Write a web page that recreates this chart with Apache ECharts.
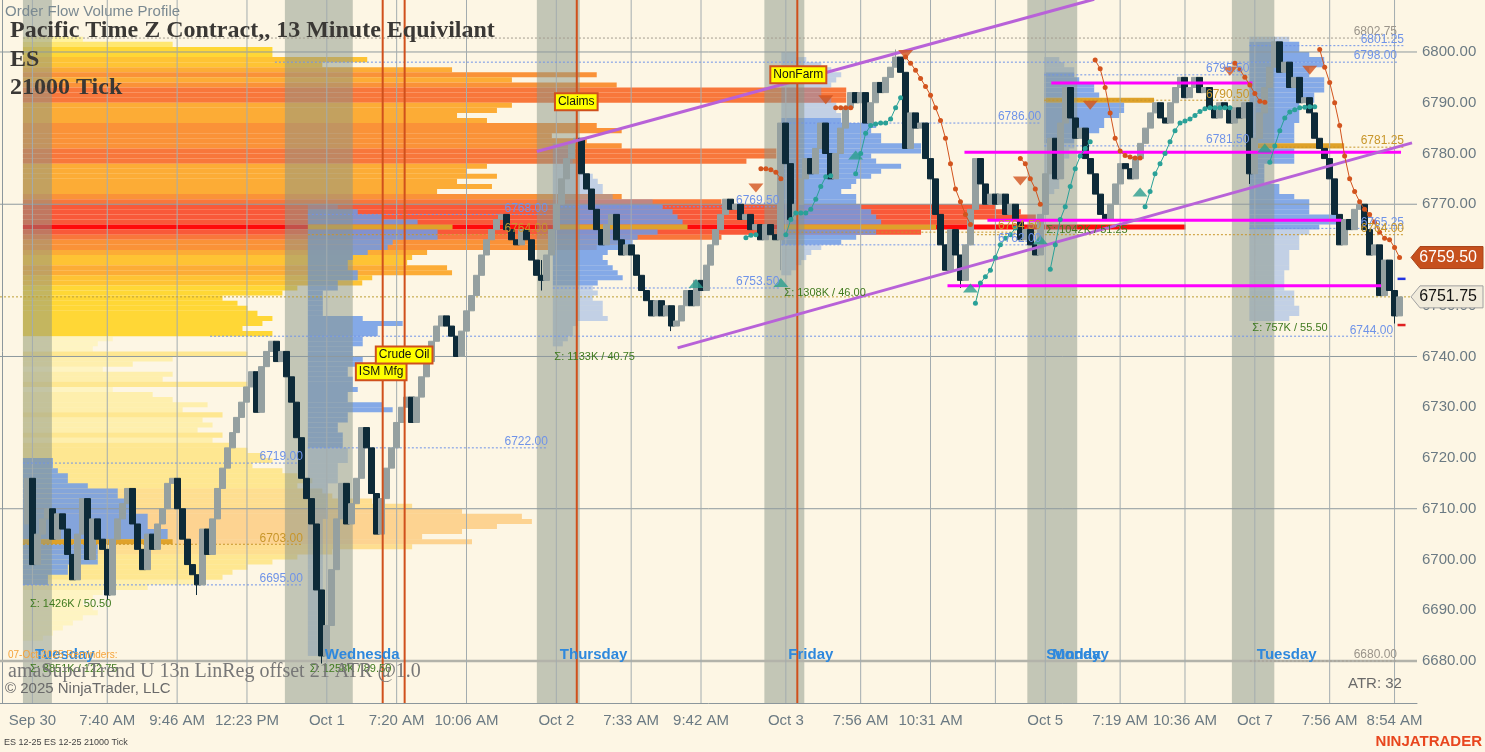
<!DOCTYPE html>
<html>

<head>
    <meta charset="utf-8" />
    <title>ES 21000 Tick - Order Flow Volume Profile</title>
    <script src="https://cdn.jsdelivr.net/npm/echarts@6.0.0/dist/echarts.min.js"></script>
    <style>
        html, body { margin: 0; padding: 0; background: #FDF6E4; }
        #main { width: 1485px; height: 752px; }
    </style>
</head>

<body>
    <div id="main"></div>
    <script type="text/javascript">
        // ---- bars (21000 tick), open of each bar = close of the one before
        var barCount = 284;
        var firstBar = 5;
        var firstOpen = 6707;
        var closes = [
            6716, 6699, 6705, 6708, 6710, 6704, 6709, 6706, 6701, 6696,
            6705, 6712, 6700, 6708, 6704, 6702, 6693, 6704, 6708, 6711,
            6714, 6707, 6702, 6698, 6705, 6702, 6707, 6710, 6715, 6716,
            6710, 6704, 6699, 6697, 6695, 6706, 6701, 6708, 6714, 6718,
            6722, 6725, 6728, 6731, 6734, 6737, 6729, 6738, 6741, 6743,
            6739, 6741, 6736, 6731, 6724, 6716, 6712, 6707, 6694, 6681,
            6687, 6698, 6708, 6715, 6707, 6711, 6716, 6726, 6722, 6713,
            6705, 6712, 6718, 6722, 6727, 6730, 6732, 6727, 6732, 6736,
            6739, 6743, 6746, 6748, 6746, 6744, 6740, 6745, 6749, 6752,
            6756, 6760, 6763, 6765, 6767, 6768, 6765, 6763, 6762, 6765,
            6763, 6759, 6756, 6755, 6760, 6765, 6770, 6775, 6779, 6782,
            6783, 6776, 6773, 6769, 6765, 6762, 6766, 6768, 6763, 6760,
            6762, 6760, 6756, 6753, 6751, 6748, 6751, 6748, 6750, 6746,
            6747, 6750, 6753, 6750, 6755, 6753, 6758, 6762, 6765, 6768,
            6771, 6769, 6770, 6767, 6768, 6765, 6766, 6763, 6766, 6764,
            6763, 6786, 6778, 6767, 6770, 6775, 6779, 6776, 6781, 6786,
            6780, 6775, 6780, 6785, 6789, 6792, 6790, 6792, 6786, 6790,
            6794, 6792, 6795, 6797, 6799, 6796, 6781, 6788, 6785, 6786,
            6779, 6775, 6768, 6762, 6757, 6765, 6760, 6755, 6762, 6769,
            6779, 6774, 6770, 6772, 6770, 6772, 6768, 6770, 6767, 6763,
            6765, 6762, 6760, 6768, 6776, 6783, 6775, 6786, 6793, 6787,
            6783, 6785, 6779, 6776, 6772, 6768, 6767, 6770, 6774, 6778,
            6777, 6775, 6779, 6782, 6785, 6788, 6790, 6787, 6786, 6790,
            6793, 6795, 6791, 6793, 6795, 6792, 6793, 6789, 6787, 6790,
            6789, 6786, 6789, 6787, 6790, 6776, 6783, 6788, 6793, 6797,
            6802, 6796, 6798, 6793, 6795, 6790, 6791, 6788, 6783, 6781,
            6779, 6775, 6768, 6762, 6767, 6765, 6769, 6770, 6765, 6760,
            6762, 6752, 6759, 6753, 6748, 6751.75
        ];
        // visible wicks: [bar, low, high]
        var wicks = [[21, 6692, 6702], [39, 6693, 6697], [64, 6679.5, 6694], [108, 6753, 6759], [134, 6745, 6750],
            [156, 6757, 6786], [179, 6797, 6800.5], [192, 6753.5, 6760], [250, 6774, 6790], [255, 6797, 6803], [279, 6746.5, 6753]];
        var lastPrice = 6751.75;

        // ---- time axis
        var tickIndex = [6, 21, 35, 49, 65, 79, 93, 111, 126, 140, 157, 172, 186, 199, 209, 224, 237, 251, 266, 279];
        var tickText = ['Sep 30', '7:40 AM', '9:46 AM', '12:23 PM', 'Oct 1', '7:20 AM', '10:06 AM', 'Oct 2', '7:33 AM', '9:42 AM',
            'Oct 3', '7:56 AM', '10:31 AM', '', 'Oct 5', '7:19 AM', '10:36 AM', 'Oct 7', '7:56 AM', '8:54 AM'];
        var gridPrices = [6680, 6710, 6740, 6770, 6800];
        var yMin = 6671.724, yMax = 6810.246;

        // ---- composite volume profile (one row per point, from the top down)
        var bigAnchor = 4.1;
        var bigTop = 6802;
        var bigVA = [6744, 6802];
        var bigVol = [
            12, 30, 50, 50, 69, 60, 86, 115, 98, 119,
            165, 165, 165, 98, 95, 87, 93, 115, 120, 106,
            113, 120, 151, 151, 145, 93, 89, 95, 87, 94,
            83, 120, 140, 195, 200, 203, 190, 233, 180, 140,
            120, 115, 81, 78, 77, 85, 86, 70, 68, 55,
            52, 40, 43, 45, 47, 50, 48, 44, 50, 18,
            15, 14, 45, 30, 22, 16, 30, 28, 45, 18,
            26, 30, 37, 32, 40, 36, 38, 35, 40, 38,
            42, 45, 48, 50, 46, 52, 55, 58, 55, 60,
            62, 70, 78, 88, 100, 102, 95, 88, 80, 90,
            78, 62, 55, 50, 45, 42, 40, 36, 25, 16,
            14, 12, 14, 15, 12, 10, 8, 6, 4
        ];

        // ---- session profiles (blue)
        var sessAnchor = [4.1, 61.2, 110.3, 156.1, 208.8, 249.9];
        var sessTop = [6719, 6769, 6781, 6799, 6798, 6802];
        var sessVA = [[6695, 6719], [6722, 6768], [6754, 6769], [6762, 6786], [6782, 6795], [6765, 6801]];
        var sessVol = [
            [6, 6, 7, 9, 9, 13, 19, 19, 22, 22, 22, 25, 25, 25, 29, 29, 30, 15, 15, 15, 15, 9, 9, 5, 5],
            [6, 10, 15, 22, 29, 26, 26, 17, 16, 12, 9, 8, 8, 10, 10, 6, 6, 3, 3, 3, 3, 3, 11, 19, 14, 14, 11, 11, 9, 9,
                11, 11, 8, 8, 9, 9, 10, 8, 8, 15, 17, 8, 8, 6, 6, 7, 7, 7, 8, 8, 8, 6, 6, 6, 6, 4, 4, 4, 4, 4,
                4, 4, 3, 3, 3, 3, 3, 3, 3, 3, 3, 3, 3, 3, 3, 3, 3, 3, 3, 3, 2, 2, 2, 2, 2, 2, 2, 2, 2],
            [3, 4, 4, 4, 5, 6, 8, 9, 10, 10, 12, 20, 22, 24, 25, 26, 27, 21, 17, 16, 14, 11, 10, 11, 12, 13, 14, 9, 8, 9,
                8, 10, 10, 10, 11, 5, 4, 4, 3, 2],
            [3, 5, 8, 10, 12, 11, 10, 8, 8, 10, 11, 11, 12, 12, 19, 18, 20, 20, 28, 28, 18, 19, 24, 20, 18, 15, 14, 12, 15, 15,
                16, 18, 19, 20, 31, 19, 15, 12, 8, 6, 5, 4, 3, 2],
            [3, 4, 6, 6, 7, 10, 10, 11, 22, 16, 16, 15, 12, 12, 11, 9, 6, 6, 5, 5, 4, 4, 4, 4, 3, 3, 2],
            [8, 10, 10, 12, 15, 15, 12, 12, 15, 15, 15, 13, 13, 10, 10, 10, 10, 9, 9, 9, 9, 19, 9, 9, 9, 3, 3, 3, 3, 6,
                6, 9, 12, 12, 12, 18, 18, 14, 12, 10, 10, 10, 8, 8, 8, 8, 7, 7, 7, 7, 9, 9, 9, 10, 10, 8]
        ];
        var sessions = [[4.1, 9.9], [56.6, 70.2], [107.1, 115.7], [152.7, 160.7], [205.4, 215.4], [246.4, 254.9]];

        // ---- levels: [from bar, to bar, price, kind]
        var levels = [
            [4.1, 279.5, 6802.75, 'ext'], [249.9, 280.9, 6801.25, 'va'], [54.6, 279.5, 6798.00, 'va'],
            [208.8, 249.9, 6795.50, 'va'], [208.8, 249.9, 6790.50, 'poc'], [156.1, 208.2, 6786.00, 'va'],
            [208.8, 249.9, 6781.50, 'va'], [249.9, 280.9, 6781.25, 'poc'], [110.3, 155.7, 6769.50, 'va'],
            [61.2, 109.3, 6768.00, 'va'], [249.9, 280.9, 6765.25, 'va'], [61.2, 109.3, 6764.00, 'poc'],
            [156.1, 208.2, 6764.50, 'poc'], [195.3, 280.9, 6764.00, 'poc'], [156.1, 208.2, 6762.00, 'va'],
            [110.3, 155.7, 6753.50, 'va'], [41.6, 278.7, 6744.00, 'va'], [61.2, 109.3, 6722.00, 'va'],
            [4.1, 60.2, 6719.00, 'va'], [4.1, 60.2, 6703.00, 'poc'], [4.1, 60.2, 6695.00, 'va'],
            [250.0, 279.5, 6680.00, 'ext']
        ];

        // ---- drawn objects: channel, horizontal zones, news
        var channel = [[107.1, 6780.4, 218.8, 6810.4], [135.3, 6741.7, 282.5, 6782.1]];
        var zones = [[210.2, 250.5, 6793.9], [192.8, 280.3, 6780.25], [197.4, 268.3, 6766.85], [189.4, 276.3, 6753.95]];
        var newsBar = [76.2, 80.6, 115.1, 159.3];
        var newsText = ['ISM Mfg', 'Crude Oil', 'Claims', 'NonFarm'];
        var newsAt = [[75.9, 6737.0], [80.5, 6740.3], [115.0, 6790.2], [159.5, 6795.5]];

        // ---- amaSuperTrend segments
        var stStart = [149, 152, 157, 167, 171, 181, 195, 204, 210, 219, 229, 247, 254, 264];
        var stSide = ['up', 'dn', 'up', 'dn', 'up', 'dn', 'up', 'dn', 'up', 'dn', 'up', 'dn', 'up', 'dn'];
        var stVals = [
            [6763.4, 6763.9, 6764.0],
            [6777.0, 6777.0, 6776.8, 6776.3, 6775.0],
            [6764.0, 6767.0, 6768.3, 6768.3, 6768.3, 6769.0, 6771.0, 6773.5, 6775.4, 6775.6],
            [6789.0, 6789.0, 6789.0, 6789.0],
            [6776.0, 6780.0, 6784.0, 6785.5, 6785.8, 6786.0, 6786.0, 6786.8, 6789.0, 6791.0],
            [6799.0, 6797.8, 6796.4, 6794.8, 6793.2, 6791.5, 6789.0, 6786.5, 6783.0, 6778.0, 6773.0, 6770.5, 6768.0, 6766.0],
            [6750.5, 6754.5, 6755.7, 6757.0, 6759.5, 6762.0, 6763.3, 6764.0, 6765.3],
            [6779.0, 6778.0, 6775.0, 6773.0, 6770.0],
            [6757.2, 6762.0, 6767.0, 6769.5, 6773.5, 6777.0, 6779.5, 6781.0, 6782.3],
            [6798.4, 6796.7, 6793.0, 6788.0, 6783.0, 6780.5, 6779.6, 6779.3, 6779.1, 6779.1],
            [6769.5, 6772.5, 6776.0, 6778.0, 6780.0, 6782.3, 6784.5, 6786.0, 6786.4, 6786.8, 6787.5, 6788.3, 6788.8, 6789.0, 6789.0, 6789.0, 6789.0, 6789.0],
            [6797.8, 6796.5, 6795.0, 6793.5, 6791.8, 6790.3, 6790.1],
            [6778.3, 6781.5, 6784.5, 6787.0, 6788.2, 6788.6, 6789.0, 6789.1, 6789.2, 6789.2],
            [6800.5, 6797.0, 6794.0, 6790.0, 6785.5, 6779.5, 6775.0, 6772.5, 6770.5, 6769.0, 6768.0, 6766.5, 6764.5, 6763.3, 6763.0, 6761.5, 6759.5]
        ];
        var dnMarks = [[151, 6773.2], [165, 6790.6], [181, 6799.5], [204, 6774.6], [218, 6789.5], [246, 6796.2], [262, 6796.4]];
        var upMarks = [[139, 6754.4], [156, 6754.6], [171, 6779.7], [194, 6753.5], [208, 6763.0], [228, 6772.4], [253, 6781.1]];

        // ---- profile totals and day names
        var sigmaText = ['Σ: 1426K / 50.50', 'Σ: 8851K / 122.75', 'Σ: 1258K / 89.50', 'Σ: 1133K / 40.75',
            'Σ: 1308K / 46.00', 'Σ: 1042K / 51.25', 'Σ: 757K / 55.50'];
        var sigmaAt = [[5.5, 6691.2], [5.5, 6678.4], [61.6, 6678.4], [110.6, 6739.9], [156.7, 6752.5], [209.2, 6764.9], [250.5, 6745.6]];
        var dayText = ['Tuesday', 'Wednesda', 'Thursday', 'Friday', 'Sunday', 'Monday', 'Tuesday'];
        var dayAt = [6.5, 64.6, 111.7, 157.5, 209.2, 210.4, 251.4];
        var dayPrice = 6681.2;

        var FONT = '"Liberation Sans", Arial, sans-serif';
        var chart = echarts.init(document.getElementById('main'));

        // candles
        var catData = [];
        var candles = [];
        for (var i = 0; i < barCount; i++) { catData.push(String(i)); candles.push('-'); }
        var prev = firstOpen;
        for (var k = 0; k < closes.length; k++) {
            var c = closes[k];
            candles[firstBar + k] = [prev, c, Math.min(prev, c), Math.max(prev, c)];
            prev = c;
        }
        wicks.forEach(function (w) {
            var b = candles[w[0]];
            b[2] = Math.min(b[2], w[1]);
            b[3] = Math.max(b[3], w[2]);
        });

        var tickSet = {}, tickLabel = {};
        tickIndex.forEach(function (t, j) { tickSet[t] = true; tickLabel[t] = tickText[j]; });
        function tickFn(index) { return tickSet[index] === true; }

        // profile rows -> rectangles
        function heat(v) {
            if (v >= 210) return '#FF1208';
            if (v >= 175) return '#F9502F';
            if (v >= 140) return '#F87032';
            if (v >= 105) return '#FA8C2E';
            if (v >= 80) return '#FCA82C';
            if (v >= 60) return '#FEC02A';
            if (v >= 40) return '#FFD52C';
            if (v >= 20) return '#FFE66A';
            return '#FFF29A';
        }
        function blue() { return '#6F9BE8'; }
        var rects = [], rectStyle = [];
        function addProfile(anchor, top, vols, va, colorFn, pocColor, inAlpha, outAlpha) {
            var poc = 0;
            for (var j = 1; j < vols.length; j++) if (vols[j] > vols[poc]) poc = j;
            for (var j = 0; j < vols.length; j++) {
                var p = top - j;
                var inside = p >= va[0] && p <= va[1];
                rects.push([anchor, p, vols[j]]);
                rectStyle.push({
                    fill: j === poc ? pocColor : colorFn(vols[j]),
                    opacity: j === poc ? 1 : (inside ? inAlpha : outAlpha)
                });
            }
        }
        addProfile(bigAnchor, bigTop, bigVol, bigVA, heat, '#FF0A0A', 0.95, 0.45);
        for (var s = 0; s < sessVol.length; s++) {
            addProfile(sessAnchor[s], sessTop[s], sessVol[s], sessVA[s], blue, '#DFA22A', 0.85, 0.42);
        }

        // straight segments
        function buildSegs(list) {
            var d = [], st = [];
            list.forEach(function (o) { d.push(o.d); st.push(o); });
            return { data: d, style: st };
        }
        var gridSegs = [];
        gridPrices.forEach(function (p) {
            gridSegs.push({ d: [-0.5, p, barCount - 0.5, p], stroke: p === 6680 ? '#B3B3AA' : '#8E999E', width: p === 6680 ? 2.5 : 1 });
        });
        tickIndex.forEach(function (t) {
            gridSegs.push({ d: [t, yMin, t, yMax], stroke: '#A3ACAF', width: 1 });
        });
        var levelColor = { va: '#6F93E8', poc: '#C8962A', ext: '#A39C90' };
        var levelSegs = [];
        levels.forEach(function (l) {
            levelSegs.push({ d: [l[0], l[2], l[1], l[2]], stroke: levelColor[l[3]], width: 1, dash: [2, 2] });
        });
        levelSegs.push({ d: [-0.5, lastPrice, barCount - 0.5, lastPrice], stroke: '#BFA036', width: 1, dash: [2, 2] });
        var topSegs = [];
        newsBar.forEach(function (b) { topSegs.push({ d: [b, yMin, b, yMax], stroke: '#D0501C', width: 2 }); });
        zones.forEach(function (z) { topSegs.push({ d: [z[0], z[2], z[1], z[2]], stroke: '#FF00FF', width: 3 }); });
        channel.forEach(function (ch) { topSegs.push({ d: ch, stroke: '#B862D8', width: 3 }); });
        topSegs.push({ d: [279.6, 6755.3, 281.2, 6755.3], stroke: '#2233E0', width: 2.5 });
        topSegs.push({ d: [279.6, 6746.2, 281.2, 6746.2], stroke: '#E02020', width: 2.5 });

        var gridS = buildSegs(gridSegs), levelS = buildSegs(levelSegs), topS = buildSegs(topSegs);
        function segRenderer(styleList) {
            return function (params, api) {
                var st = styleList[params.dataIndex];
                var a = api.coord([api.value(0), api.value(1)]);
                var b = api.coord([api.value(2), api.value(3)]);
                return {
                    type: 'line', shape: { x1: a[0], y1: a[1], x2: b[0], y2: b[1] },
                    style: { stroke: st.stroke, lineWidth: st.width, lineDash: st.dash || null }
                };
            };
        }

        // texts anchored to bars / prices
        var texts = [];
        var labelColor = { va: '#6F93E8', poc: '#C8962A', ext: '#9A948A' };
        levels.forEach(function (l) {
            texts.push({ at: [l[1], l[2]], style: { text: l[2].toFixed(2), fill: labelColor[l[3]], font: '12px ' + FONT, align: 'right', verticalAlign: 'bottom' } });
        });
        sigmaText.forEach(function (t, j) {
            texts.push({ at: sigmaAt[j], style: { text: t, fill: '#3F7A1E', font: '11px ' + FONT, align: 'left', verticalAlign: 'middle' } });
        });
        dayText.forEach(function (t, j) {
            texts.push({ at: [dayAt[j], dayPrice], style: { text: t, fill: '#2E88DD', font: 'bold 15px ' + FONT, align: 'left', verticalAlign: 'middle' } });
        });
        newsText.forEach(function (t, j) {
            texts.push({
                at: newsAt[j], style: {
                    text: t, fill: '#111', font: '12px ' + FONT, align: 'center', verticalAlign: 'middle',
                    backgroundColor: '#FFFF00', borderColor: '#D0501C', borderWidth: 2, padding: [2, 2, 1, 2]
                }
            });
        });
        var textData = texts.map(function (t) { return t.at; });

        // supertrend line series
        var stSeries = [];
        stVals.forEach(function (vals, j) {
            var pts = vals.map(function (v, n) { return [stStart[j] + n, v]; });
            var col = stSide[j] === 'up' ? '#2AA198' : '#D2541E';
            stSeries.push({
                type: 'line', xAxisIndex: 1, yAxisIndex: 0, data: pts, z: 7,
                symbol: 'circle', symbolSize: 5, showSymbol: true,
                lineStyle: { color: col, width: 1 }, itemStyle: { color: col }
            });
        });

        var option = {
            animation: false,
            backgroundColor: '#FDF6E4',
            grid: { left: 0, right: 68, top: 0, bottom: 49 },
            xAxis: [
                {
                    type: 'category', data: catData, boundaryGap: true,
                    axisLine: { lineStyle: { color: '#8C979C', width: 1 } },
                    axisTick: { alignWithLabel: true, length: 5, interval: tickFn, lineStyle: { color: '#8C979C' } },
                    axisLabel: {
                        interval: tickFn, color: '#6B7A83', fontSize: 15, fontFamily: FONT, margin: 10,
                        formatter: function (value) { return tickLabel[value] || ''; }
                    },
                    splitLine: { show: false }
                },
                { type: 'value', min: -0.5, max: barCount - 0.5, show: false }
            ],
            yAxis: [{
                type: 'value', position: 'right', min: yMin, max: yMax, splitNumber: 14,
                axisLine: { show: true, lineStyle: { color: '#8C979C' } },
                axisTick: { show: false },
                splitLine: { show: false },
                axisLabel: {
                    color: '#6B7A83', fontSize: 15, fontFamily: FONT, margin: 5,
                    showMinLabel: false, showMaxLabel: false,
                    formatter: function (v) {
                        var r = Math.round(v);
                        if (Math.abs(v - r) > 1e-6 || r % 10 !== 0 || r < 6680 || r > 6800) return '';
                        return r.toFixed(2);
                    }
                }
            }],
            series: [
                {
                    type: 'custom', xAxisIndex: 1, yAxisIndex: 0, z: 2, clip: true, data: rects,
                    renderItem: function (params, api) {
                        var st = rectStyle[params.dataIndex];
                        var a = api.coord([api.value(0), api.value(1) + 1]);
                        var b = api.coord([api.value(0) + api.value(2), api.value(1)]);
                        return { type: 'rect', shape: { x: a[0], y: a[1], width: b[0] - a[0], height: b[1] - a[1] }, style: { fill: st.fill, opacity: st.opacity } };
                    }
                },
                {
                    type: 'custom', xAxisIndex: 1, yAxisIndex: 0, z: 3, clip: true, data: sessions,
                    renderItem: function (params, api) {
                        var cs = params.coordSys;
                        var x1 = api.coord([api.value(0), 6700])[0];
                        var x2 = api.coord([api.value(1), 6700])[0];
                        return { type: 'rect', shape: { x: x1, y: cs.y, width: x2 - x1, height: cs.height }, style: { fill: 'rgba(138,150,136,0.5)' } };
                    }
                },
                { type: 'custom', xAxisIndex: 1, yAxisIndex: 0, z: 4, clip: true, data: gridS.data, renderItem: segRenderer(gridS.style) },
                { type: 'custom', xAxisIndex: 1, yAxisIndex: 0, z: 4, clip: true, data: levelS.data, renderItem: segRenderer(levelS.style) },
                {
                    type: 'candlestick', xAxisIndex: 0, yAxisIndex: 0, z: 5, data: candles, barWidth: 6.5, barMaxWidth: 8,
                    itemStyle: { color: '#95A0A0', color0: '#0D2A38', borderColor: '#95A0A0', borderColor0: '#0D2A38', borderWidth: 1 }
                },
                { type: 'custom', xAxisIndex: 1, yAxisIndex: 0, z: 6, clip: true, data: topS.data, renderItem: segRenderer(topS.style) },
                {
                    type: 'scatter', xAxisIndex: 1, yAxisIndex: 0, z: 8, data: dnMarks,
                    symbol: 'triangle', symbolRotate: 180, symbolSize: [15, 9], itemStyle: { color: '#D2541E' }
                },
                {
                    type: 'scatter', xAxisIndex: 1, yAxisIndex: 0, z: 8, data: upMarks,
                    symbol: 'triangle', symbolSize: [15, 9], itemStyle: { color: '#2A9D8F' }
                },
                {
                    type: 'custom', xAxisIndex: 1, yAxisIndex: 0, z: 9, clip: false, data: textData,
                    renderItem: function (params, api) {
                        var p = api.coord([api.value(0), api.value(1)]);
                        return { type: 'text', x: p[0], y: p[1], style: texts[params.dataIndex].style };
                    }
                }
            ].concat(stSeries)
        };
        chart.setOption(option);

        // price tags on the axis and the fixed captions
        function tag(price, fill, stroke, color) {
            var y = chart.convertToPixel({ yAxisIndex: 0 }, price);
            return {
                type: 'group', zlevel: 2, children: [
                    { type: 'polygon', zlevel: 2, z: 100, shape: { points: [[1411, y], [1420, y - 11], [1483, y - 11], [1483, y + 11], [1420, y + 11]] }, style: { fill: fill, stroke: stroke, lineWidth: 1 } },
                    { type: 'text', zlevel: 2, z: 101, x: 1477, y: y, style: { text: price.toFixed(2), fill: color, font: '16px ' + FONT, align: 'right', verticalAlign: 'middle' } }
                ]
            };
        }
        function caption(x, y, text, font, color, align) {
            return { type: 'text', x: x, y: y, z: 100, style: { text: text, font: font, fill: color, align: align || 'left', verticalAlign: 'top' } };
        }
        var serif = '"Liberation Serif", "Times New Roman", serif';
        chart.setOption({
            graphic: [
                tag(stVals[stVals.length - 1][stVals[stVals.length - 1].length - 1], '#C6501D', '#A8441A', '#FFFFFF'),
                tag(lastPrice, '#F1EBDB', '#A0A0A0', '#111111'),
                caption(5, 4, 'Order Flow Volume Profile', '15px ' + FONT, '#7B8A92'),
                caption(10, 19, 'Pacific Time Z Contract,, 13 Minute Equivilant', 'bold 24px ' + serif, '#3A3835'),
                caption(10, 48, 'ES', 'bold 24px ' + serif, '#3A3835'),
                caption(10, 76, '21000 Tick', 'bold 24px ' + serif, '#3A3835'),
                caption(8, 650, '07-Oct-2025 Reminders:', '10px ' + FONT, '#F5A33A'),
                caption(8, 662, 'amaSuperTrend U 13n LinReg offset 21 ATR @1.0', '20px ' + serif, '#777777'),
                caption(5, 681, '\u00A9 2025 NinjaTrader, LLC', '15px ' + FONT, '#6A6A6A'),
                caption(1348, 676, 'ATR: 32', '15px ' + FONT, '#6A6A6A'),
                caption(4, 738, 'ES 12-25 ES 12-25 21000 Tick', '9px ' + FONT, '#444444'),
                caption(1482, 734, 'NINJATRADER', 'bold 15px ' + FONT, '#E8461E', 'right')
            ]
        });
    </script>
</body>

</html>
